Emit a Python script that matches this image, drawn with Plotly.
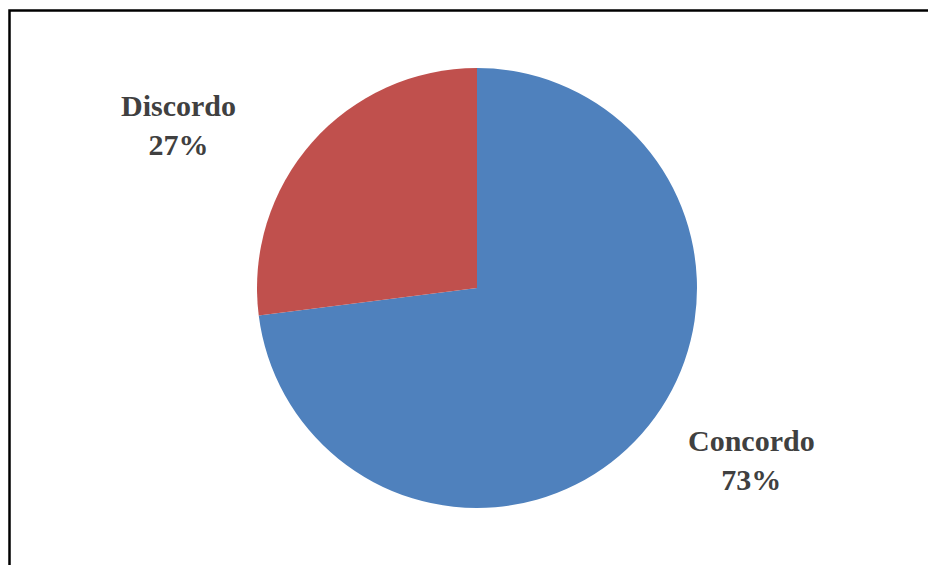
import plotly.graph_objects as go

labels = ["Concordo", "Discordo"]
values = [73, 27]
colors = ["#4F81BD", "#C0504D"]

W, H = 936, 565
OFF = 8  # page body margin offset
cx, cy, r = 477 - OFF, 288 - OFF, 220

fig = go.Figure(go.Pie(
    labels=labels, values=values, sort=False, direction="clockwise", rotation=0,
    marker=dict(colors=colors, line=dict(width=0)),
    textinfo="none", hoverinfo="label+percent", showlegend=False,
    domain=dict(x=[(cx - r) / W, (cx + r) / W], y=[(H - cy - r) / H, (H - cy + r) / H]),
))

total = sum(values)
label_pos = {"Concordo": (751 - OFF, 460 - OFF), "Discordo": (178 - OFF, 125 - OFF)}
for lab, val in zip(labels, values):
    px, py = label_pos[lab]
    fig.add_annotation(
        x=px / W, y=(H - py) / H, xref="paper", yref="paper",
        text=f"<b>{lab}<br>{round(100 * val / total)}%</b>", showarrow=False,
        font=dict(family="Liberation Serif", size=30, color="#404040"),
        xanchor="center", yanchor="middle", align="center",
    )

fig.add_shape(type="rect", xref="paper", yref="paper",
              x0=(9.5 - OFF) / W, x1=1.2, y0=-0.2, y1=(H - 10.5 + OFF) / H,
              line=dict(color="#000000", width=2.5), fillcolor="rgba(0,0,0,0)")

fig.update_layout(width=W, height=H, margin=dict(l=0, r=0, t=0, b=0),
                  paper_bgcolor="white", plot_bgcolor="white")
fig.write_html("out.html")
